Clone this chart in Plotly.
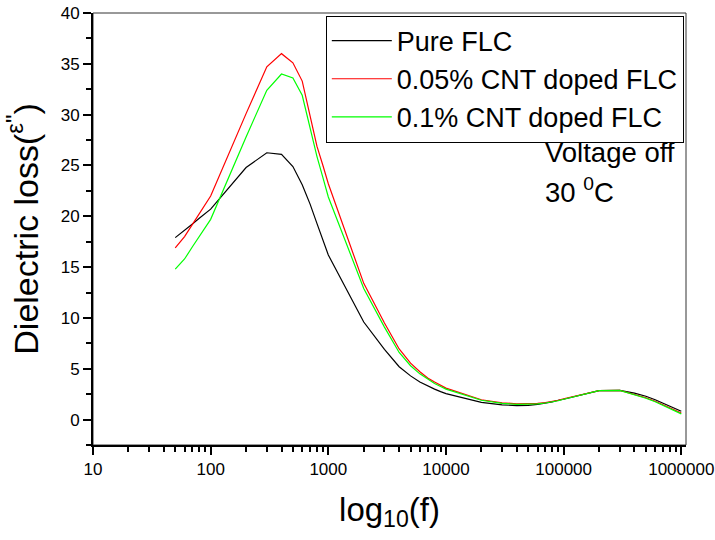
import plotly.graph_objects as go

# Frequencies (Hz)
freq = [50, 60, 70, 80, 90, 100, 200, 300, 400, 500, 600, 700, 800, 900, 1000,
        2000, 3000, 4000, 5000, 6000, 7000, 8000, 9000, 10000,
        20000, 30000, 40000, 50000, 60000, 70000, 80000, 90000, 100000,
        200000, 300000, 400000, 500000, 600000, 700000, 800000, 900000, 1000000]

# Dielectric loss values
pure_flc = [17.9, 18.6, 19.25, 19.8, 20.3, 20.7, 24.8, 26.25, 26.1, 24.9, 23.1, 21.2, 19.3, 17.6, 16.2,
            9.6, 6.9, 5.2, 4.3, 3.7, 3.3, 3.0, 2.75, 2.55,
            1.7, 1.45, 1.38, 1.4, 1.5, 1.6, 1.75, 1.9, 2.0,
            2.85, 2.88, 2.6, 2.3, 1.95, 1.6, 1.35, 1.05, 0.82]
cnt_005 = [16.9, 18.0, 19.2, 20.25, 21.2, 22.0, 30.1, 34.7, 36.0, 35.1, 33.3, 30.0, 26.9, 25.0, 23.2,
           13.4, 9.5, 6.95, 5.55, 4.7, 4.1, 3.7, 3.35, 3.1,
           1.95, 1.65, 1.55, 1.55, 1.6, 1.68, 1.78, 1.9, 2.05,
           2.85, 2.88, 2.5, 2.15, 1.8, 1.45, 1.15, 0.85, 0.65]
cnt_01 = [14.8, 15.8, 17.0, 18.0, 18.9, 19.7, 27.8, 32.4, 34.0, 33.6, 31.9, 28.6, 25.9, 23.8, 21.9,
          12.9, 9.1, 6.6, 5.3, 4.5, 3.95, 3.55, 3.25, 3.0,
          1.9, 1.6, 1.5, 1.5, 1.55, 1.63, 1.73, 1.85, 2.0,
          2.85, 2.88, 2.45, 2.1, 1.75, 1.4, 1.1, 0.8, 0.56]

series_names = ["Pure FLC", "0.05% CNT doped FLC", "0.1% CNT doped FLC"]
series_colors = ["#000000", "#ff0000", "#00ff00"]
series_values = [pure_flc, cnt_005, cnt_01]

x_tickvals = [10, 100, 1000, 10000, 100000, 1000000]
x_ticktext = ["10", "100", "1000", "10000", "100000", "1000000"]
y_tickvals = [0, 5, 10, 15, 20, 25, 30, 35, 40]

FONT = "Liberation Sans, Arial, sans-serif"

fig = go.Figure()
for name, color, vals in zip(series_names, series_colors, series_values):
    fig.add_trace(go.Scatter(x=freq, y=vals, mode="lines", name=name,
                             line=dict(color=color, width=1.2)))

fig.update_layout(
    width=715, height=540,
    margin=dict(l=93, r=29, t=13, b=95, autoexpand=False),
    paper_bgcolor="white", plot_bgcolor="white",
    font=dict(family=FONT, color="black"),
    showlegend=True,
    legend=dict(x=0.3926, y=0.994, xanchor="left", yanchor="top",
                bgcolor="white", bordercolor="black", borderwidth=1,
                font=dict(size=27, family=FONT, color="black"),
                itemwidth=60, tracegroupgap=0),
    xaxis=dict(type="log", range=[1, 6.04], showgrid=False, zeroline=False, automargin=False,
               showline=True, linecolor="black", linewidth=2,
               ticks="outside", ticklen=8, tickwidth=1.5, tickcolor="black",
               tickvals=x_tickvals, ticktext=x_ticktext,
               tickfont=dict(size=17, family=FONT, color="black"),
               minor=dict(ticks="outside", ticklen=5, tickwidth=1.5, tickcolor="black",
                          dtick="D1", showgrid=False),
               title=dict(text="log<sub>10</sub>(f)", font=dict(size=33, family=FONT, color="black"),
                          standoff=19)),
    yaxis=dict(range=[-2.5, 40], showgrid=False, zeroline=False, automargin=False,
               showline=True, linecolor="black", linewidth=2,
               ticks="outside", ticklen=8, tickwidth=1.5, tickcolor="black",
               tickvals=y_tickvals,
               tickfont=dict(size=17, family=FONT, color="black"),
               minor=dict(ticks="outside", ticklen=5, tickwidth=1.5, tickcolor="black",
                          dtick=2.5, tick0=0, showgrid=False),
               title=dict(text="Dielectric loss(<sup>ε\"</sup>)",
                          font=dict(size=34, family=FONT, color="black"), standoff=12)),
    shapes=[dict(type="rect", xref="paper", yref="paper", x0=0, y0=0, x1=1, y1=1,
                 line=dict(color="#333333", width=1), layer="below")],
    annotations=[
        dict(text="Voltage off", xref="paper", yref="paper", x=0.7588, y=0.676,
             xanchor="left", yanchor="middle", showarrow=False,
             font=dict(size=27.5, family=FONT, color="black")),
        dict(text="30 <sup>0</sup>C", xref="paper", yref="paper", x=0.7588, y=0.590,
             xanchor="left", yanchor="middle", showarrow=False,
             font=dict(size=27.5, family=FONT, color="black")),
    ],
)

fig.write_html("out.html")
